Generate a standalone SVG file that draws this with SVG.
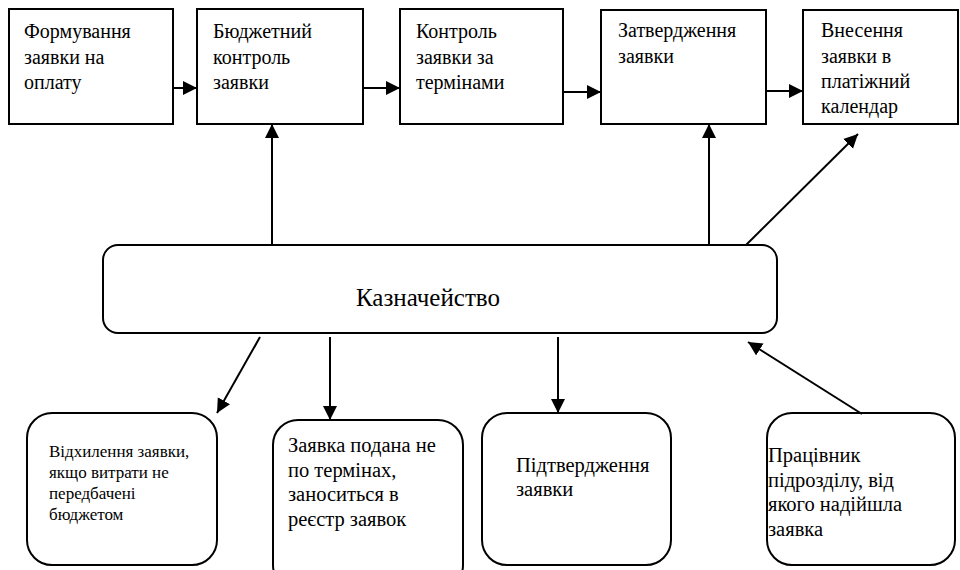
<svg xmlns="http://www.w3.org/2000/svg" width="960" height="570" viewBox="0 0 960 570">
<defs>
<marker id="ah" markerUnits="userSpaceOnUse" markerWidth="16" markerHeight="16" refX="14" refY="7" orient="auto">
<path d="M0,0 L14,7 L0,14 z" fill="#000"/>
</marker>
<style>
.box{fill:#fff;stroke:#000;stroke-width:2}
text{font-family:'Liberation Serif','Times New Roman',serif !important}
</style>
</defs>
<rect width="960" height="570" fill="#fff"/>
<g id="n1"><rect class="box" x="9" y="9" width="164" height="115"/>
<text style="font-family:'Liberation Serif',serif;font-size:20px" x="24" y="38">Формування</text>
<text style="font-family:'Liberation Serif',serif;font-size:20px" x="24" y="64">заявки на</text>
<text style="font-family:'Liberation Serif',serif;font-size:20px" x="24" y="89">оплату</text></g>
<g id="n2"><rect class="box" x="197" y="9" width="166" height="115"/>
<text style="font-family:'Liberation Serif',serif;font-size:20px" x="213" y="38">Бюджетний</text>
<text style="font-family:'Liberation Serif',serif;font-size:20px" x="213" y="64">контроль</text>
<text style="font-family:'Liberation Serif',serif;font-size:20px" x="213" y="89">заявки</text></g>
<g id="n3"><rect class="box" x="400" y="9" width="163" height="115"/>
<text style="font-family:'Liberation Serif',serif;font-size:20px" x="416" y="38">Контроль</text>
<text style="font-family:'Liberation Serif',serif;font-size:20px" x="416" y="64">заявки за</text>
<text style="font-family:'Liberation Serif',serif;font-size:20px" x="416" y="89">термінами</text></g>
<g id="n4"><rect class="box" x="601" y="10" width="165" height="114"/>
<text style="font-family:'Liberation Serif',serif;font-size:20px" x="618" y="37">Затвердження</text>
<text style="font-family:'Liberation Serif',serif;font-size:20px" x="618" y="63">заявки</text></g>
<g id="n5"><rect class="box" x="803" y="10" width="155" height="114"/>
<text style="font-family:'Liberation Serif',serif;font-size:20px" x="821" y="37">Внесення</text>
<text style="font-family:'Liberation Serif',serif;font-size:20px" x="821" y="63">заявки в</text>
<text style="font-family:'Liberation Serif',serif;font-size:20px" x="821" y="88">платіжний</text>
<text style="font-family:'Liberation Serif',serif;font-size:20px" x="821" y="113">календар</text></g>
<g id="n6"><rect class="box" x="103" y="245" width="674" height="88" rx="15"/>
<text style="font-family:'Liberation Serif',serif;font-size:25px" x="428" y="306" text-anchor="middle">Казначейство</text></g>
<g id="n7"><rect class="box" x="27" y="413" width="190" height="152" rx="25"/>
<text style="font-family:'Liberation Serif',serif;font-size:17px" x="49" y="457">Відхилення заявки,</text>
<text style="font-family:'Liberation Serif',serif;font-size:17px" x="49" y="478">якщо витрати не</text>
<text style="font-family:'Liberation Serif',serif;font-size:17px" x="49" y="499">передбачені</text>
<text style="font-family:'Liberation Serif',serif;font-size:17px" x="49" y="520">бюджетом</text></g>
<g id="n8"><rect class="box" x="273" y="420" width="190" height="170" rx="25"/>
<text style="font-family:'Liberation Serif',serif;font-size:20.5px" x="288" y="452">Заявка подана не</text>
<text style="font-family:'Liberation Serif',serif;font-size:20.5px" x="288" y="476.5">по термінах,</text>
<text style="font-family:'Liberation Serif',serif;font-size:20.5px" x="288" y="501">заноситься в</text>
<text style="font-family:'Liberation Serif',serif;font-size:20.5px" x="288" y="525.5">реєстр заявок</text></g>
<g id="n9"><rect class="box" x="482" y="413" width="189" height="152" rx="25"/>
<text style="font-family:'Liberation Serif',serif;font-size:20.5px" x="516" y="472">Підтвердження</text>
<text style="font-family:'Liberation Serif',serif;font-size:20.5px" x="516" y="496">заявки</text></g>
<g id="n10"><rect class="box" x="767" y="413" width="188" height="152" rx="25"/>
<text style="font-family:'Liberation Serif',serif;font-size:20.5px" x="768" y="462">Працівник</text>
<text style="font-family:'Liberation Serif',serif;font-size:20.5px" x="768" y="486.5">підрозділу, від</text>
<text style="font-family:'Liberation Serif',serif;font-size:20.5px" x="768" y="511">якого надійшла</text>
<text style="font-family:'Liberation Serif',serif;font-size:20.5px" x="768" y="535.5">заявка</text></g>
<g id="connectors" fill="none" stroke="#000" stroke-width="2" marker-end="url(#ah)">
<line x1="173" y1="88" x2="197" y2="88"/>
<line x1="363" y1="88" x2="400" y2="88"/>
<line x1="563" y1="92" x2="601" y2="92"/>
<line x1="766" y1="91" x2="803" y2="91"/>
<line x1="272" y1="245" x2="272" y2="124"/>
<line x1="709" y1="245" x2="709" y2="124"/>
<line x1="746" y1="245" x2="858" y2="134"/>
<line x1="260" y1="337" x2="217" y2="413"/>
<line x1="330" y1="337" x2="330" y2="420"/>
<line x1="558" y1="337" x2="558" y2="413"/>
<line x1="862" y1="414" x2="748" y2="342"/>
</g>
</svg>
